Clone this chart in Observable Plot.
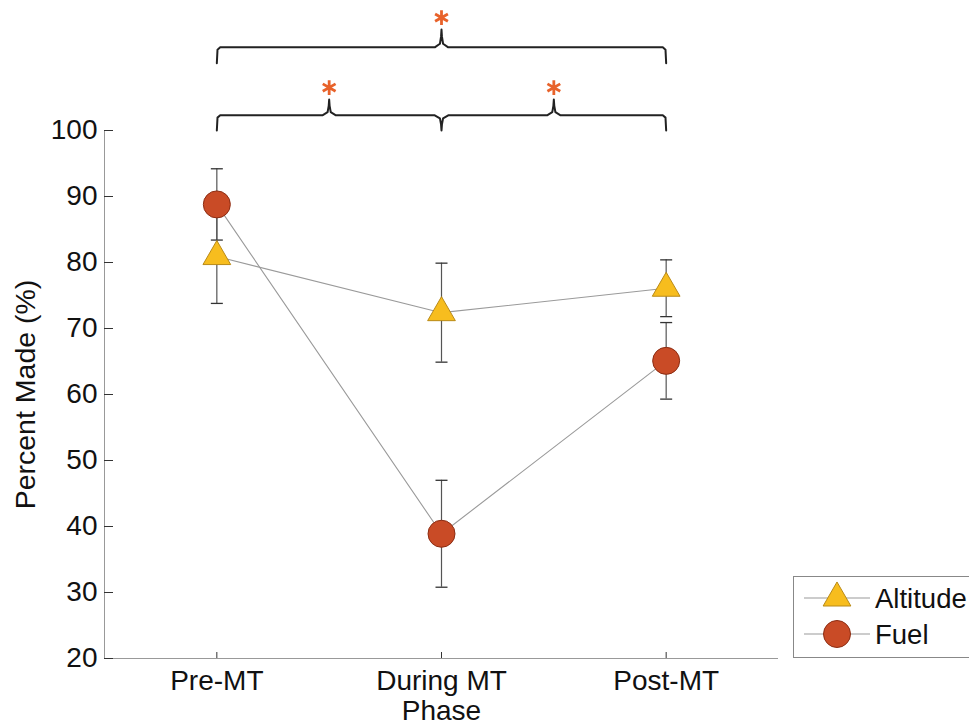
<!DOCTYPE html>
<html><head><meta charset="utf-8">
<script src="https://cdn.jsdelivr.net/npm/d3@7"></script>
<script src="https://cdn.jsdelivr.net/npm/@observablehq/plot@0.6"></script>
<style>
body{margin:0;background:#fff;}
#wrap{position:relative;width:969px;height:726px;overflow:hidden;font-family:"Liberation Sans",Arial,sans-serif;}
#legend{position:absolute;left:793px;top:576px;}
</style></head><body><div id="wrap"></div>
<script>
// ---- data ----
const phases = ["Pre-MT", "During MT", "Post-MT"];
const phaseIndex = [1, 2, 3];
const altitudeMean = [80.9, 72.4, 76.1];
const altitudeErr = [7.1, 7.5, 4.3];
const fuelMean = [88.8, 38.9, 65.1];
const fuelErr = [5.4, 8.1, 5.8];
const yTicks = [20, 30, 40, 50, 60, 70, 80, 90, 100];
const xDomain = [0.5, 3.5];
const yDomain = [20, 100];
// significance brackets (in data units)
const bracketFrom = [1, 1];
const bracketTo = [3, 3];
const bracketLevel = [112.6, 102.3];
const bracketEnd = [110.2, 100.0];
const bracketTipX = [[2], [1.5, 2, 2.5]];
const bracketTipY = [[115.3], [104.7, 100.0, 104.7]];
const starX = [2, 1.5, 2.5];
const starY = [117.1, 106.5, 106.5];

// ---- styles ----
const altFill = "#F7BD1E", altStroke = "#B98A17";
const fuelFill = "#C94B26", fuelStroke = "#8C2D13";
const starColor = "#E8622A";
const font = "'Liberation Sans', Arial, sans-serif";
const fs = 28;

// ---- build tables ----
const series = [
  {name: "Altitude", mean: altitudeMean, err: altitudeErr},
  {name: "Fuel", mean: fuelMean, err: fuelErr}
];
const rows = series.flatMap(s => phaseIndex.map((x, i) => ({series: s.name, x, y: s.mean[i], lo: s.mean[i] - s.err[i], hi: s.mean[i] + s.err[i]})));
const alt = rows.filter(d => d.series === "Altitude");
const fuel = rows.filter(d => d.series === "Fuel");
const caps = rows.flatMap(d => [{x: d.x, y: d.lo}, {x: d.x, y: d.hi}]);

const bracketPts = [];
bracketFrom.forEach((x0, b) => {
  const x1 = bracketTo[b], L = bracketLevel[b], E = bracketEnd[b];
  const s = Math.sign(E - L);
  const pts = [[x0, E], [x0 + 0.003, L + s * 0.35], [x0 + 0.015, L]];
  bracketTipX[b].forEach((tx, k) => {
    const ty = bracketTipY[b][k];
    pts.push([tx - 0.03, L], [tx - 0.007, L + (ty - L) * 0.2], [tx - 0.002, L + (ty - L) * 0.6], [tx, ty],
             [tx + 0.002, L + (ty - L) * 0.6], [tx + 0.007, L + (ty - L) * 0.2], [tx + 0.03, L]);
  });
  pts.push([x1 - 0.015, L], [x1 - 0.003, L + s * 0.35], [x1, E]);
  pts.forEach(p => bracketPts.push({b, x: p[0], y: p[1]}));
});

const capSymbol = {draw(ctx, size) { const w = Math.sqrt(size / Math.PI); ctx.moveTo(-w, 0); ctx.lineTo(w, 0); }};

const chart = Plot.plot({
  width: 969, height: 726,
  marginLeft: 104, marginRight: 191, marginTop: 130, marginBottom: 68,
  style: {fontFamily: font, background: "#fff", color: "#111"},
  x: {domain: xDomain},
  y: {domain: yDomain},
  marks: [
    Plot.ruleX([xDomain[0]], {stroke: "#999", strokeWidth: 1}),
    Plot.ruleY([yDomain[0]], {stroke: "#999", strokeWidth: 1}),
    Plot.axisY({ticks: yTicks, tickSize: -9, tickPadding: 16, fontSize: fs, label: null, stroke: "#333"}),
    Plot.axisX({ticks: phaseIndex, tickFormat: d => phases[d - 1], tickSize: -6, tickPadding: 18, fontSize: fs, label: null, stroke: "#333"}),
    Plot.text(["Percent Made (%)"], {text: d => d, frameAnchor: "left", textAnchor: "middle", rotate: -90, dx: -79, dy: 0, fontSize: 28.5, fill: "#111"}),
    Plot.text(["Phase"], {text: d => d, x: 2, frameAnchor: "bottom", lineAnchor: "top", dy: 42, fontSize: fs, fill: "#111"}),
    Plot.line(bracketPts, {x: "x", y: "y", z: "b", stroke: "#222", strokeWidth: 2}),
    Plot.dot(starX.map((x, i) => ({x, y: starY[i]})), {x: "x", y: "y", symbol: "asterisk", r: 7, stroke: starColor, strokeWidth: 2.8}),
    Plot.line(alt, {x: "x", y: "y", stroke: "#9a9a9a", strokeWidth: 1.1}),
    Plot.line(fuel, {x: "x", y: "y", stroke: "#9a9a9a", strokeWidth: 1.1}),
    Plot.ruleX(rows, {x: "x", y1: "lo", y2: "hi", stroke: "#555", strokeWidth: 1.2}),
    Plot.dot(caps, {x: "x", y: "y", symbol: capSymbol, r: 6, stroke: "#333", strokeWidth: 1.3}),
    Plot.dot(alt, {x: "x", y: "y", symbol: "triangle", r: 10.3, fill: altFill, stroke: altStroke, strokeWidth: 1}),
    Plot.dot(fuel, {x: "x", y: "y", symbol: "circle", r: 13.5, fill: fuelFill, stroke: fuelStroke, strokeWidth: 1})
  ]
});
document.getElementById("wrap").appendChild(chart);

// legend
const leg = d3.select("#wrap").append("svg").attr("id", "legend").attr("width", 190).attr("height", 83);
leg.append("rect").attr("x", 0.5).attr("y", 0.5).attr("width", 220).attr("height", 81).attr("fill", "#fff").attr("stroke", "#888");
const entries = [{name: "Altitude", y: 22, type: "triangle"}, {name: "Fuel", y: 58, type: "circle"}];
entries.forEach(e => {
  leg.append("line").attr("x1", 11).attr("x2", 77).attr("y1", e.y).attr("y2", e.y).attr("stroke", "#9a9a9a").attr("stroke-width", 1.1);
  if (e.type === "triangle") {
    leg.append("path").attr("d", d3.symbol(d3.symbolTriangle, Math.PI * 10.3 * 10.3)()).attr("transform", `translate(44,${e.y})`).attr("fill", altFill).attr("stroke", altStroke);
  } else {
    leg.append("circle").attr("cx", 44).attr("cy", e.y).attr("r", 13.5).attr("fill", fuelFill).attr("stroke", fuelStroke);
  }
  leg.append("text").attr("x", 82).attr("y", e.y).attr("dy", "0.35em").attr("font-size", 27.5).attr("font-family", font).attr("fill", "#111").text(e.name);
});
</script>
</body></html>
